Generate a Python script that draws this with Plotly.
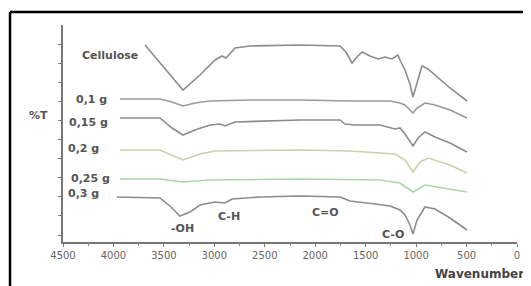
import plotly.graph_objects as go

# Wavenumber (cm-1) and offset %T readings for each spectrum
cell_wn = [3687, 3311, 3142, 2993, 2924, 2884, 2795, 2647, 2151, 1754, 1695, 1635, 1576, 1536, 1457, 1378, 1308, 1239, 1180, 1160, 1110, 1061, 1031, 991, 942, 882, 813, 664, 496]
cell_t = [197, 152, 167, 182, 186, 184, 194, 196, 197, 196, 190, 179, 186, 190, 186, 183, 185, 183, 187, 182, 172, 158, 145, 160, 176, 173, 167, 154, 141]

g01_wn = [3935, 3539, 3420, 3311, 3192, 3043, 2647, 2151, 1655, 1259, 1160, 1110, 1061, 1031, 991, 912, 813, 664, 496]
g01_t = [143, 143, 140, 136, 139, 141, 142, 142, 141, 141, 139, 137, 132, 129, 134, 139, 137, 132, 124]

g015_wn = [3935, 3539, 3420, 3311, 3192, 3043, 2944, 2894, 2795, 2151, 1754, 1705, 1606, 1457, 1358, 1209, 1160, 1110, 1061, 1031, 981, 912, 813, 664, 496]
g015_t = [124, 124, 114, 107, 112, 117, 118, 116, 120, 122, 122, 118, 117, 117, 117, 113, 114, 108, 100, 96, 104, 110, 105, 99, 90]

g02_wn = [3935, 3539, 3311, 3142, 2993, 2151, 1655, 1209, 1110, 1031, 961, 882, 664, 496]
g02_t = [92, 92, 82, 88, 91, 92, 91, 88, 82, 70, 80, 84, 77, 69]

g025_wn = [3935, 3539, 3311, 3043, 2151, 1358, 1160, 1031, 912, 714, 496]
g025_t = [63, 63, 60, 62, 63, 62, 59, 50, 57, 54, 50]

g03_wn = [3965, 3539, 3440, 3341, 3241, 3142, 2993, 2894, 2825, 2548, 2151, 1754, 1655, 1556, 1407, 1259, 1160, 1110, 1061, 1031, 991, 912, 813, 664, 496]
g03_t = [45, 44, 36, 26, 30, 37, 40, 39, 43, 45, 46, 45, 41, 40, 38, 36, 32, 27, 17, 8, 22, 35, 33, 24, 12]

series_names = ["Cellulose", "0,1 g", "0,15 g", "0,2 g", "0,25 g", "0,3 g"]
series_colors = ["#8c8c8c", "#9a9a9a", "#8c8c8c", "#cfcfa8", "#a8d8a8", "#8c8c8c"]
series_x = [cell_wn, g01_wn, g015_wn, g02_wn, g025_wn, g03_wn]
series_y = [cell_t, g01_t, g015_t, g02_t, g025_t, g03_t]

# label anchor positions (wavenumber, %T)
label_wn = [4034, 4222, 4252, 4292, 4232, 4292]
label_t = [187, 143, 120, 94, 64, 49]

band_labels = ["-OH", "C-H", "C=O", "C-O"]
band_wn = [3311, 2855, 1903, 1229]
band_t = [14, 26, 30, 8]

FONT = "DejaVu Sans, Verdana, sans-serif"

fig = go.Figure()
for nm, col, xs, ys in zip(series_names, series_colors, series_x, series_y):
    fig.add_trace(go.Scatter(x=xs, y=ys, mode="lines", name=nm,
                             line=dict(color=col, width=1.6), showlegend=False))

font_txt = dict(family=FONT, size=11, color="#555555", weight="bold")
for nm, wx, ty in zip(series_names, label_wn, label_t):
    fig.add_annotation(x=wx, y=ty, text=nm, showarrow=False, font=font_txt)
for nm, wx, ty in zip(band_labels, band_wn, band_t):
    fig.add_annotation(x=wx, y=ty, text=nm, showarrow=False, font=font_txt)

fig.add_annotation(xref="paper", yref="paper", x=-0.055, y=0.585, text="%T",
                   xanchor="center", yanchor="middle", showarrow=False, font=font_txt)
fig.add_annotation(xref="paper", yref="paper", x=0.918, y=-0.147, text="Wavenumber",
                   xanchor="center", yanchor="middle", showarrow=False,
                   font=dict(family=FONT, size=12, color="#444444", weight="bold"))

# photo frame (top and left edges)
fig.add_shape(type="line", xref="paper", yref="paper", x0=-0.1167, y0=-0.25, x1=-0.1167, y1=1.06,
              line=dict(color="black", width=2.5))
fig.add_shape(type="line", xref="paper", yref="paper", x0=-0.1167, y0=1.06, x1=1.05, y1=1.06,
              line=dict(color="black", width=2.5))

fig.update_layout(
    width=523, height=278,
    margin=dict(l=55, r=14, t=17, b=44),
    paper_bgcolor="white", plot_bgcolor="white",
    xaxis=dict(range=[4500, 0], tick0=0, dtick=500, showgrid=False, zeroline=False,
               showline=True, linecolor="#777", linewidth=1.5,
               ticks="outside", ticklen=3, tickcolor="#777",
               minor=dict(ticks="outside", ticklen=2, dtick=250, tickcolor="#999"),
               tickfont=dict(family=FONT, size=10, color="#666666")),
    yaxis=dict(range=[0, 217], showgrid=False, zeroline=False, showline=True,
               linecolor="#777", linewidth=1.5, ticks="outside", ticklen=3,
               tickcolor="#777", tick0=7, dtick=19.1, showticklabels=False),
)

fig.write_html("out.html")
